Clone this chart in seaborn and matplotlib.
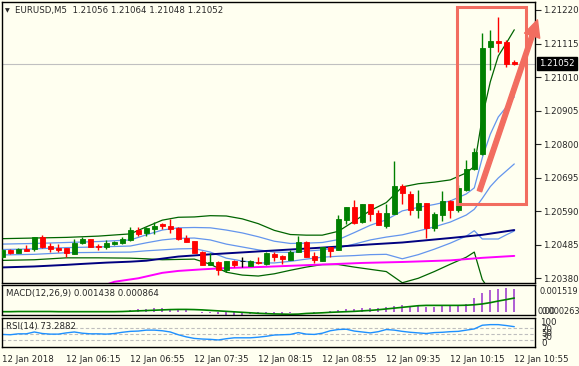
import numpy as np
import pandas as pd
import matplotlib
matplotlib.use("Agg")
import matplotlib.pyplot as plt
import seaborn as sns
from matplotlib.patches import Rectangle, FancyArrowPatch

# --- data (EURUSD M5, 12 Jan 2018, 65 bars) ---
opens = [1.20447, 1.20469, 1.20460, 1.20472, 1.20471, 1.20509, 1.20481, 1.20474, 1.20475, 1.20457,
         1.20490, 1.20503, 1.20482, 1.20479, 1.20488, 1.20491, 1.20501, 1.20531, 1.20521, 1.20535,
         1.20549, 1.20545, 1.20538, 1.20506, 1.20497, 1.20462, 1.20422, 1.20431, 1.20406, 1.20434,
         1.20433, 1.20419, 1.20431, 1.20425, 1.20456, 1.20450, 1.20437, 1.20463, 1.20495, 1.20450,
         1.20435, 1.20478, 1.20469, 1.20563, 1.20602, 1.20556, 1.20613, 1.20583, 1.20544, 1.20581,
         1.20669, 1.20645, 1.20594, 1.20615, 1.20537, 1.20578, 1.20623, 1.20594, 1.20656, 1.20721,
         1.20768, 1.21104, 1.21122, 1.21120, 1.21056]
highs = [1.20472, 1.20471, 1.20476, 1.20483, 1.20510, 1.20517, 1.20490, 1.20487, 1.20476, 1.20504,
         1.20508, 1.20504, 1.20487, 1.20500, 1.20498, 1.20510, 1.20542, 1.20540, 1.20540, 1.20555,
         1.20552, 1.20566, 1.20541, 1.20516, 1.20498, 1.20464, 1.20460, 1.20434, 1.20435, 1.20437,
         1.20446, 1.20437, 1.20447, 1.20462, 1.20463, 1.20452, 1.20469, 1.20513, 1.20496, 1.20463,
         1.20478, 1.20479, 1.20578, 1.20604, 1.20625, 1.20614, 1.20614, 1.20594, 1.20612, 1.20747,
         1.20676, 1.20652, 1.20655, 1.20616, 1.20589, 1.20652, 1.20624, 1.20673, 1.20749, 1.20789,
         1.21148, 1.21157, 1.21199, 1.21125, 1.21064]
lows = [1.20444, 1.20456, 1.20459, 1.20465, 1.20466, 1.20476, 1.20463, 1.20462, 1.20448, 1.20455,
        1.20487, 1.20478, 1.20470, 1.20473, 1.20485, 1.20488, 1.20498, 1.20513, 1.20513, 1.20518,
        1.20535, 1.20523, 1.20501, 1.20494, 1.20459, 1.20421, 1.20421, 1.20391, 1.20400, 1.20416,
        1.20414, 1.20418, 1.20426, 1.20421, 1.20434, 1.20425, 1.20436, 1.20462, 1.20446, 1.20427,
        1.20434, 1.20448, 1.20468, 1.20550, 1.20550, 1.20554, 1.20560, 1.20547, 1.20537, 1.20580,
        1.20614, 1.20579, 1.20569, 1.20507, 1.20528, 1.20558, 1.20569, 1.20589, 1.20652, 1.20720,
        1.20767, 1.21031, 1.21088, 1.21041, 1.21048]
closes = [1.20469, 1.20460, 1.20472, 1.20466, 1.20509, 1.20479, 1.20471, 1.20469, 1.20460, 1.20490,
          1.20503, 1.20479, 1.20477, 1.20491, 1.20495, 1.20503, 1.20531, 1.20520, 1.20537, 1.20545,
          1.20543, 1.20535, 1.20503, 1.20495, 1.20460, 1.20422, 1.20431, 1.20406, 1.20434, 1.20422,
          1.20433, 1.20435, 1.20427, 1.20460, 1.20446, 1.20439, 1.20463, 1.20495, 1.20448, 1.20437,
          1.20477, 1.20466, 1.20566, 1.20603, 1.20554, 1.20613, 1.20581, 1.20548, 1.20585, 1.20669,
          1.20647, 1.20594, 1.20615, 1.20537, 1.20581, 1.20623, 1.20594, 1.20663, 1.20723, 1.20776,
          1.21101, 1.21123, 1.21117, 1.21050, 1.21052]

# Bollinger (20): middle line and one standard deviation, read at these bars
band_idx = [0, 4, 8, 12, 16, 18, 20, 22, 24, 26, 28, 30, 32, 34, 36, 38, 40, 42, 44, 46, 48,
            50, 52, 54, 56, 58, 59, 60, 61, 62, 63, 64]
band_mid = [1.20470, 1.20472, 1.20476, 1.20478, 1.20481, 1.20491, 1.20500, 1.20505, 1.20506,
            1.20500, 1.20487, 1.20478, 1.20469, 1.20462, 1.20461, 1.20465, 1.20469, 1.20475,
            1.20487, 1.20500, 1.20509, 1.20516, 1.20528, 1.20541, 1.20556, 1.20578, 1.20596,
            1.20630, 1.20667, 1.20694, 1.20716, 1.20738]
band_sd = [0.00017, 0.00017, 0.00016, 0.00017, 0.00019, 0.00025, 0.00031, 0.00033, 0.00033,
           0.00038, 0.00044, 0.00044, 0.00041, 0.00034, 0.00028, 0.00025, 0.00023, 0.00026,
           0.00036, 0.00046, 0.00054, 0.00075, 0.00074, 0.00070, 0.00066, 0.00066, 0.00067,
           0.00127, 0.00164, 0.00191, 0.00200, 0.00210]

# slow moving averages
navy_idx = [0, 4, 8, 10, 13, 16, 18, 22, 26, 30, 34, 40, 46, 50, 56, 60, 64]
navy_ma = [1.20414, 1.20417, 1.20422, 1.20425, 1.20429, 1.20432, 1.20435, 1.20448, 1.20455,
           1.20461, 1.20467, 1.20476, 1.20486, 1.20492, 1.20506, 1.20516, 1.20531]
magenta_idx = [10, 13, 14, 17, 20, 22, 25, 28, 33, 36, 40, 45, 50, 56, 60, 64]
magenta_ma = [1.20345, 1.20360, 1.20369, 1.20380, 1.20397, 1.20403, 1.20408, 1.20412, 1.20416,
              1.20419, 1.20423, 1.20428, 1.20431, 1.20436, 1.20444, 1.20450]

macd_main = [0.00002, 0.00005, 0.00004, 0.00002, 0.00003, 0.00003, 0.00002, 0.00001, 0.00001, 0.00002,
             0.00003, 0.00003, 0.00002, 0.00003, 0.00004, 0.00006, 0.00012, 0.00016, 0.00019, 0.00022,
             0.00022, 0.00021, 0.00015, 0.00010, 0.00003, -0.00005, -0.00009, -0.00013, -0.00018, -0.000263,
             -0.00020, -0.00014, -0.00014, -0.00011, -0.00010, -0.00010, -0.00006, -0.00002, -0.00003, -0.00004,
             0.00001, 0.00004, 0.00012, 0.00019, 0.00021, 0.00025, 0.00027, 0.00026, 0.00030, 0.00040,
             0.00042, 0.00040, 0.00038, 0.00030, 0.00032, 0.00035, 0.00035, 0.00041, 0.00050, 0.00087,
             0.00116, 0.00134, 0.00141, 0.001519, 0.001438]
macd_signal = [0.00002, 0.00002, 0.00003, 0.00003, 0.00003, 0.00003, 0.00003, 0.00002, 0.00002, 0.00002,
               0.00002, 0.00002, 0.00002, 0.00002, 0.00002, 0.00003, 0.00005, 0.00007, 0.00009, 0.00011,
               0.00013, 0.00015, 0.00016, 0.00016, 0.00015, 0.00013, 0.00010, 0.00007, 0.00004, 0.00001,
               -0.00002, -0.00005, -0.00008, -0.00010, -0.00012, -0.00013, -0.00014, -0.00013, -0.00009, -0.00007,
               -0.00005, -0.00002, 0.00000, 0.00002, 0.00004, 0.00007, 0.00010, 0.00014, 0.00019, 0.00024,
               0.00029, 0.00034, 0.00039, 0.00041, 0.00041, 0.00041, 0.00041, 0.00041, 0.00042, 0.00045,
               0.00050, 0.00058, 0.00068, 0.00077, 0.000864]
rsi = [48, 47, 50, 50, 56, 51, 49, 49, 53, 56, 52, 50, 50, 49, 51, 55, 58, 59, 62, 62,
       60, 56, 47, 40, 35, 33, 32, 30, 34, 37, 37, 37, 39, 42, 46, 47, 48, 54, 49, 48,
       52, 60, 64, 65, 59, 56, 53, 57, 64, 62, 58, 55, 53, 51, 54, 55, 57, 58, 62, 66,
       78, 80, 80, 77, 73.2882]

price_ticks = [1.21220, 1.21115, 1.21010, 1.20905, 1.20800, 1.20695, 1.20590, 1.20485, 1.20380]
last_price = 1.21052
time_tick_idx = [0, 8, 16, 24, 32, 40, 48, 56, 64]
time_labels = ["12 Jan 2018", "12 Jan 06:15", "12 Jan 06:55", "12 Jan 07:35", "12 Jan 08:15",
               "12 Jan 08:55", "12 Jan 09:35", "12 Jan 10:15", "12 Jan 10:55"]
title = "EURUSD,M5  1.21056 1.21064 1.21048 1.21052"

# highlight box and arrow around the breakout (bar index / price)
box_x = [56.8, 65.45]
box_y = [1.20614, 1.21228]
arrow_from = (59.65, 1.20653)
arrow_to = (66.9, 1.21189)

# --- style ---
BG = "#FFFFF0"
GREEN = "#008000"
RED = "#FF0000"
BAND_GREEN = "#006400"
BLUE = "#6495ED"
SALMON = "#F26D60"
FS = 6.2

sns.set_style("white", {"axes.facecolor": BG, "figure.facecolor": BG,
                        "axes.edgecolor": "black"})
plt.rcParams["font.family"] = ["DejaVu Sans"]
plt.rcParams["font.size"] = FS

W, H = 579, 366
fig = plt.figure(figsize=(W / 100, H / 100), dpi=100)


def px_axes(left, top, right, bottom):
    return fig.add_axes([left / W, 1 - bottom / H, (right - left) / W, (bottom - top) / H])


def px_text(x, y, s, **kw):
    fig.text(x / W, 1 - y / H, s, va="center", **kw)


ax = px_axes(2, 2, 535, 283)
ax_macd = px_axes(2, 285, 535, 315)
ax_rsi = px_axes(2, 318, 535, 347)

df = pd.DataFrame({"o": opens, "h": highs, "l": lows, "c": closes})
df["i"] = np.arange(len(df))
colors = np.where(df.c > df.o, GREEN, np.where(df.c < df.o, RED, "black"))

# --- main window ---
ax.axhline(last_price, color="#C0C0C0", lw=0.8, zorder=1)

bands = pd.DataFrame({"i": band_idx, "mid": band_mid, "sd": band_sd})
for k, c in [(2, BAND_GREEN), (1, BLUE), (0, BLUE), (-1, BLUE), (-2, BAND_GREEN)]:
    sns.lineplot(x=bands.i, y=bands.mid + k * bands.sd, ax=ax, color=c, lw=0.9, zorder=2)
sns.lineplot(x=navy_idx, y=navy_ma, ax=ax, color="#000080", lw=1.4, zorder=2)
sns.lineplot(x=magenta_idx, y=magenta_ma, ax=ax, color="#FF00FF", lw=1.4, zorder=2)

ax.vlines(df.i, df.l, df.h, colors=colors, lw=1.0, zorder=3)
ax.bar(df.i, df.c - df.o, bottom=df.o, width=0.62, color=colors, edgecolor=colors,
       linewidth=0.6, zorder=4)

ax.add_patch(Rectangle((box_x[0], box_y[0]), box_x[1] - box_x[0], box_y[1] - box_y[0],
                       fill=False, edgecolor=SALMON, lw=2.2, zorder=6))
ax.add_patch(FancyArrowPatch(arrow_from, arrow_to, clip_on=False, zorder=7, color=SALMON,
                             arrowstyle="simple,head_length=1.2,head_width=1.15,tail_width=0.33",
                             mutation_scale=10, shrinkA=0, shrinkB=0))

ax.set_xlim(-0.0375, 66.59)
ax.set_ylim(1.203652, 1.212450)
ax.set_yticks(price_ticks)
ax.set_yticklabels([f"{p:.5f}" for p in price_ticks])
ax.set_xticks([])

ax.annotate(f"{last_price:.5f}", xy=(1.0, last_price), xycoords=("axes fraction", "data"),
            xytext=(3, 0), textcoords="offset points", va="center", ha="left",
            color="white", fontsize=FS,
            bbox=dict(boxstyle="square,pad=0.25", fc="black", ec="black"))

# --- MACD window ---
ax_macd.vlines(df.i, 0, macd_main, colors="#9932CC", lw=1.1)
sns.lineplot(x=df.i, y=macd_signal, ax=ax_macd, color=GREEN, lw=1.2)
ax_macd.set_xlim(ax.get_xlim())
ax_macd.set_ylim(-0.000186, 0.001674)
ax_macd.set_xticks([])
ax_macd.set_yticks([])

# --- RSI window ---
for lv in (30, 50, 70):
    ax_rsi.axhline(lv, color="#BEBEBE", lw=0.8, ls=(0, (3, 2)))
sns.lineplot(x=df.i, y=rsi, ax=ax_rsi, color="#1E90FF", lw=1.0)
ax_rsi.set_xlim(ax.get_xlim())
ax_rsi.set_ylim(7, 101.6)
ax_rsi.set_yticks([])
ax_rsi.set_xticks(time_tick_idx)
ax_rsi.set_xticklabels(time_labels, ha="left")

for a in (ax, ax_macd, ax_rsi):
    a.set_xlabel("")
    a.set_ylabel("")
    for s in a.spines.values():
        s.set_linewidth(1.0)
        s.set_color("black")

ax.yaxis.tick_right()
ax.tick_params(axis="y", direction="out", length=4, width=0.8, pad=1.5, labelsize=FS)
ax_rsi.tick_params(axis="x", direction="out", length=4, width=0.8, pad=2, labelsize=FS)

# --- texts ---
px_text(5, 11, "\u25bc", fontsize=4.5)
px_text(15, 11, title)
px_text(6, 293.5, "MACD(12,26,9) 0.001438 0.000864")
px_text(6, 326.5, "RSI(14) 73.2882")
px_text(539, 292, "0.001519", fontsize=5.9)
px_text(537, 312, "0.00", fontsize=5.9)
px_text(541, 311, "0.000263", fontsize=5.9)
px_text(540, 322.5, "100")
px_text(541, 329, "70")
px_text(541, 333, "50")
px_text(541, 338, "30")
px_text(541, 343, "0")

fig.savefig("out.png", dpi=100, facecolor=BG)
